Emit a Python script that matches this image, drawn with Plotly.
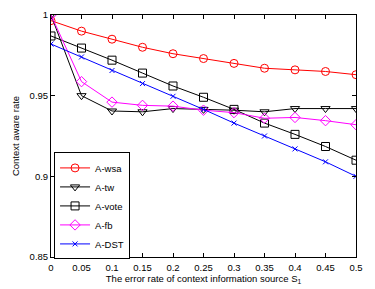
import plotly.graph_objects as go

x = [0, 0.05, 0.1, 0.15, 0.2, 0.25, 0.3, 0.35, 0.4, 0.45, 0.5]
wsa = [0.9965, 0.990, 0.985, 0.980, 0.976, 0.973, 0.970, 0.967, 0.966, 0.965, 0.963]
tw = [1.0, 0.950, 0.9405, 0.940, 0.942, 0.9415, 0.941, 0.940, 0.942, 0.942, 0.942]
vote = [0.987, 0.9795, 0.972, 0.964, 0.956, 0.949, 0.9415, 0.933, 0.926, 0.9185, 0.910]
fb = [1.0, 0.9587, 0.946, 0.944, 0.9435, 0.941, 0.9395, 0.936, 0.9365, 0.9345, 0.932]
dst = [0.982, 0.974, 0.9656, 0.9575, 0.9496, 0.9415, 0.933, 0.925, 0.917, 0.909, 0.900]

names = ["A-wsa", "A-tw", "A-vote", "A-fb", "A-DST"]
series = [wsa, tw, vote, fb, dst]
colors = ["#ff0000", "#000000", "#000000", "#ff00ff", "#0000ff"]
symbols = ["circle-open", "triangle-down-open", "square-open", "diamond-open", "x-thin-open"]
sizes = [8, 8, 8, 8, 5]

xticks = [0, 0.05, 0.1, 0.15, 0.2, 0.25, 0.3, 0.35, 0.4, 0.45, 0.5]
xticklabels = ["0", "0.05", "0.1", "0.15", "0.2", "0.25", "0.3", "0.35", "0.4", "0.45", "0.5"]
yticks = [0.85, 0.9, 0.95, 1.0]
yticklabels = ["0.85", "0.9", "0.95", "1"]

FONT = "Liberation Sans, Arial, sans-serif"

fig = go.Figure()
for n, s, c, sym, sz in zip(names, series, colors, symbols, sizes):
    fig.add_trace(go.Scatter(
        x=x, y=s, name=n, mode="lines+markers",
        line=dict(color=c, width=1),
        marker=dict(symbol=sym, size=sz, color=c, line=dict(color=c, width=1)),
    ))

axis_common = dict(
    showgrid=False, zeroline=False, showline=True, linecolor="black", linewidth=1,
    mirror="ticks", ticks="inside", ticklen=4, tickcolor="black", automargin=False,
    tickfont=dict(family=FONT, size=9.5, color="black"),
)

fig.update_layout(
    width=375, height=289,
    margin=dict(l=51, r=19, t=15, b=32),
    paper_bgcolor="white", plot_bgcolor="white",
    font=dict(family=FONT, size=9.5, color="black"),
    xaxis=dict(range=[0, 0.5], tickvals=xticks, ticktext=xticklabels, ticklabelstandoff=2,
               title=dict(text="The error rate of context information source S<sub>1</sub>",
                          font=dict(size=9.5), standoff=1), **axis_common),
    yaxis=dict(range=[0.85, 1.0], tickvals=yticks, ticktext=yticklabels,
               title=dict(text="Context aware rate", font=dict(size=9.5), standoff=8), **axis_common),
    legend=dict(x=0.01, y=-0.01, xanchor="left", yanchor="bottom",
                bgcolor="white", bordercolor="black", borderwidth=1,
                font=dict(size=9.5), tracegroupgap=0, itemwidth=30),
    showlegend=True,
)

fig.write_html("out.html", config={"displayModeBar": False},
               post_script="document.body.style.margin='0';")
